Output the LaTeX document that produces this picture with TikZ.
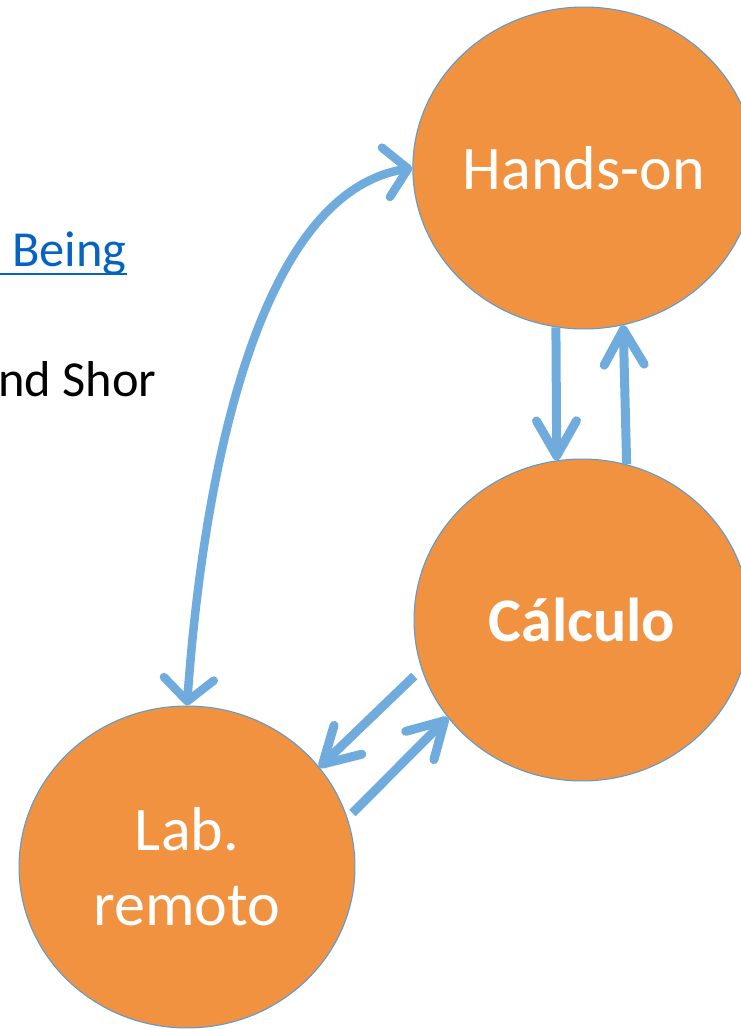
\documentclass[tikz,border=0pt]{standalone}
\usepackage{fontspec}
\setmainfont{Carlito}
\usetikzlibrary{arrows.meta}
\usetikzlibrary{shapes.geometric}
\definecolor{stateorange}{RGB}{240,146,64}
\definecolor{rimblue}{RGB}{91,155,213}
\definecolor{flowblue}{RGB}{111,172,221}
\definecolor{linkblue}{RGB}{5,99,193}

\begin{document}
\begin{tikzpicture}[line join=round,x=0.02cm,y=0.02cm,
  state/.style={ellipse,draw=rimblue,fill=stateorange,line width=0.6pt,minimum width=6.72cm,minimum height=6.44cm,inner sep=0pt,text=white,align=center,font=\fontsize{35.3}{42.7}\selectfont},
  flow/.style={draw=flowblue,line width=0.18cm,-{Straight Barb[round,length=0.7cm,width=0.8cm]}},
  swing/.style={draw=flowblue,line width=0.17cm,{Straight Barb[round,length=0.45cm,width=1.0cm]}-{Straight Barb[round,length=0.45cm,width=1.0cm]}},
  pagetext/.style={inner sep=0pt,font=\fontsize{28.7}{34}\selectfont}]
\useasboundingbox (0,0) rectangle (741,1029);
\clip (0,0) rectangle (741,1029);
% cut-off page text on the left
\node [pagetext,anchor=base east,text=linkblue] (being) at (127,762) {Being};
\draw [linkblue,line width=0.054cm] ([yshift=-0.14cm]being.base east) -- ++(-140,0);
\node [pagetext,anchor=base west] (shor) at (-2,632) {nd Shor};
% the three states
\node [state] (hands) at (584,861) {Hands-on};
\node [state,font=\fontsize{35.3}{42.7}\selectfont\bfseries] (calc) at (582,409) {Cálculo};
\node [state] (lab) at (187,162) {Lab.\\remoto};
% links
\draw [flow] (hands.260) -- (calc.99.3);
\draw [flow] (calc.74.9) -- (hands.284.4);
\draw [flow,shorten <=0.2cm] (calc.197) -- (lab.37.3);
\draw [flow,shorten <=0.14cm] (lab.17.7) -- (calc.216.2);
\draw [swing] (lab.north) .. controls +(13,186) and +(-166,-27) .. (hands.west);
\end{tikzpicture}
\end{document}
